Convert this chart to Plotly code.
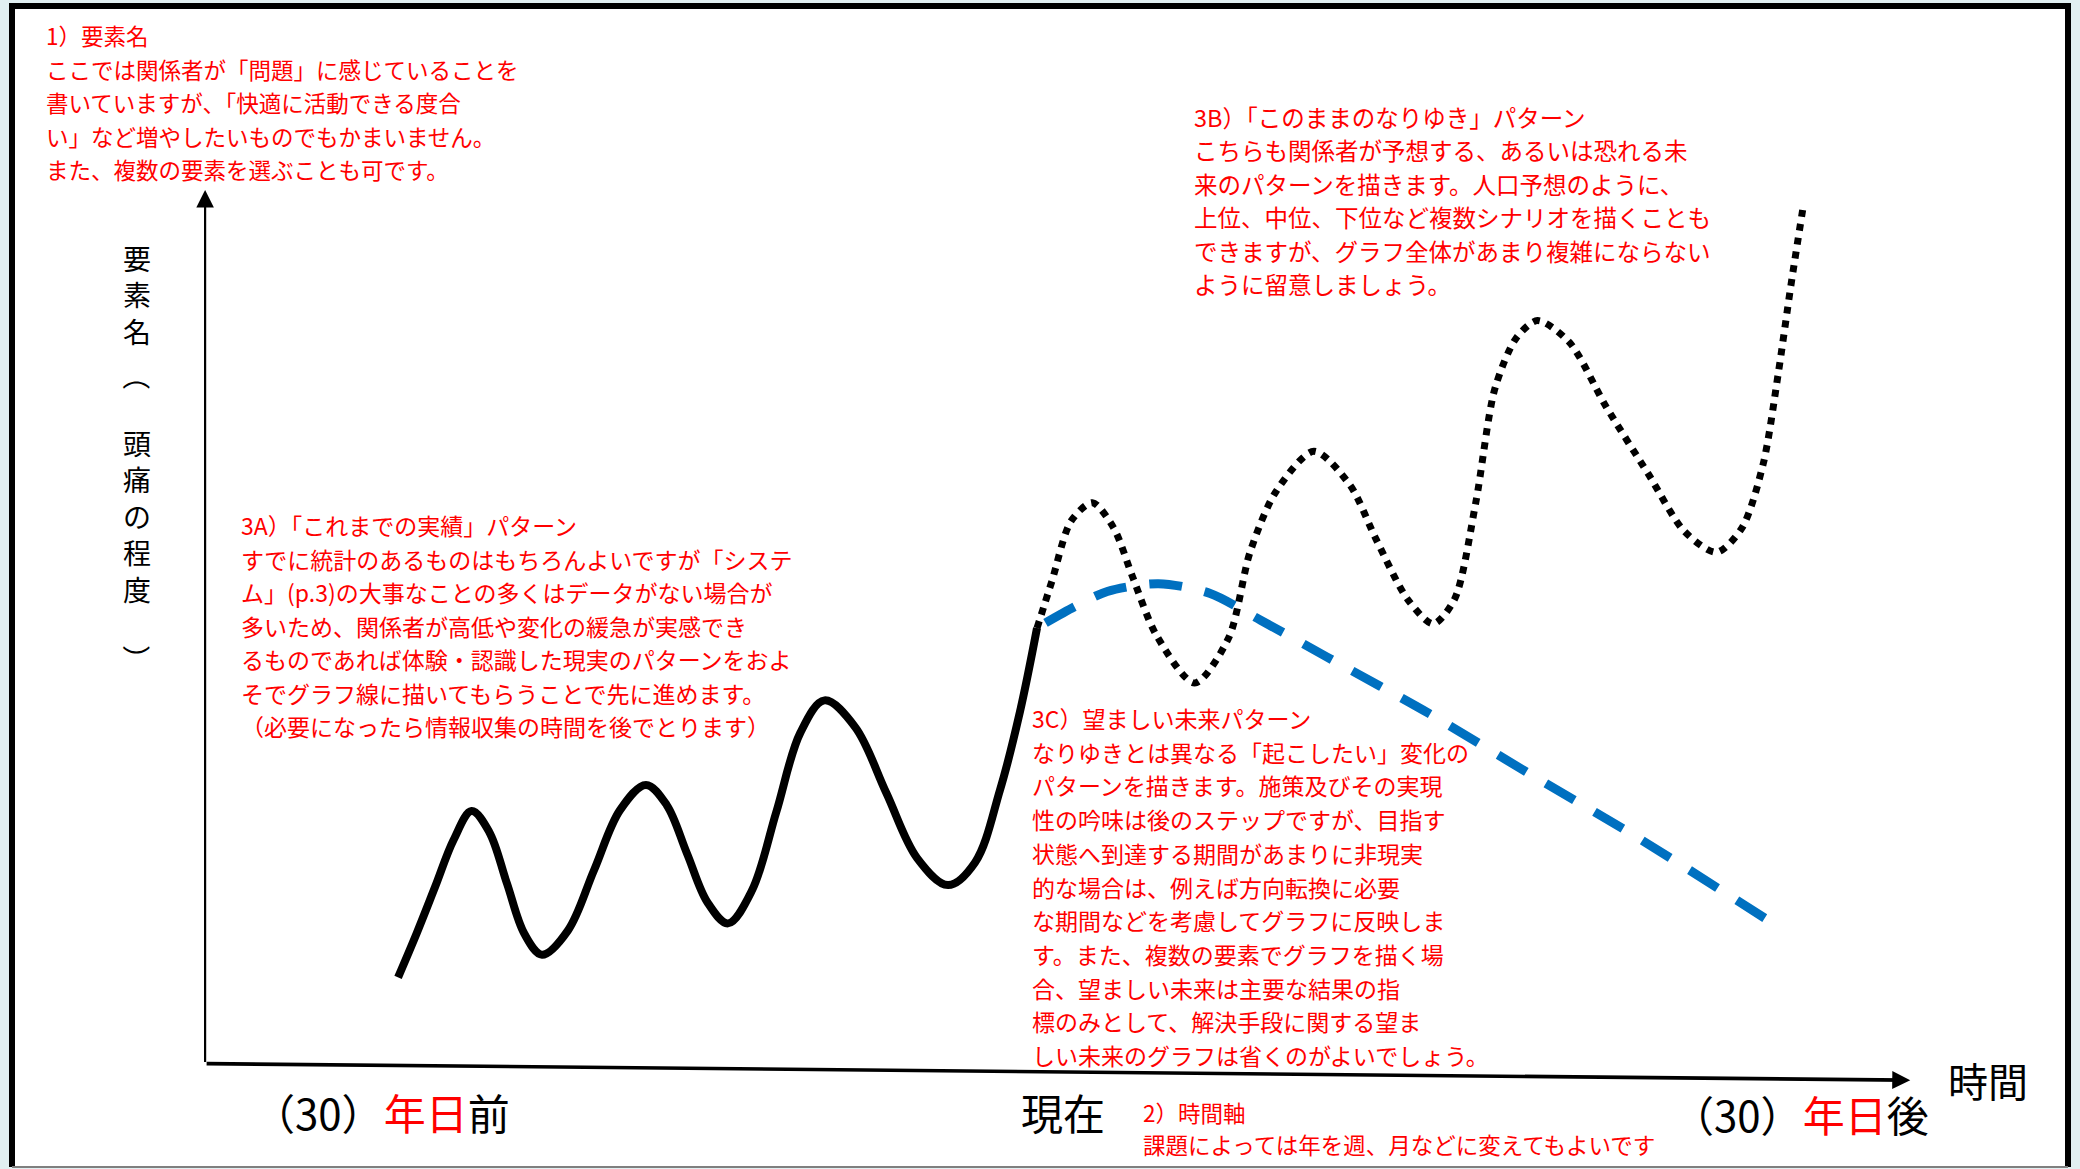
import plotly.graph_objects as go

# ---------------- data (time in years from "now", level of the element) ----------------
past_years = [-30.0, -29.12, -28.26, -27.39, -26.55, -25.72, -24.89, -24.07, -23.24, -22.02,
              -20.80, -19.58, -18.36, -17.39, -16.43, -15.47, -14.51, -13.38, -12.24, -11.11,
              -9.98, -8.53, -7.08, -5.63, -4.18, -2.91, -1.74, -0.80, 0.0]
past_level = [9.6, 14.7, 20.0, 25.4, 28.7, 26.3, 20.4, 14.6, 12.2, 15.0,
              21.9, 28.8, 31.7, 29.4, 23.8, 18.2, 15.8, 19.6, 28.6, 37.7,
              41.4, 38.3, 30.8, 23.3, 20.2, 22.8, 31.1, 40.1, 49.7]

trend_years = [0.0, 0.7, 1.6, 2.6, 3.6, 4.5, 5.6, 7.4, 9.0, 10.0, 11.2, 13.0, 14.7, 15.9,
               17.4, 18.6, 19.6, 20.6, 21.5, 22.5, 23.5, 25.0, 26.7, 28.7, 30.4, 31.9,
               33.1, 34.1, 34.8, 35.4, 36.0]
trend_level = [49.7, 55.1, 62.0, 64.1, 61.2, 55.5, 48.9, 43.4, 48.6, 58.4, 65.3, 70.0, 66.1,
               60.0, 53.0, 50.2, 53.0, 64.1, 77.2, 83.0, 85.0, 82.5, 75.2, 67.4, 60.8,
               58.4, 61.2, 68.6, 78.9, 89.1, 98.5]

goal_years = [0.4, 1.8, 3.3, 5.7, 8.1, 10.5, 13.6, 18.4, 23.1, 27.9, 34.3]
goal_level = [50.3, 52.2, 53.9, 54.8, 53.7, 50.6, 46.4, 39.9, 33.0, 26.1, 16.2]

# axis extents (years / level)
axis_origin = (-39.06, -0.3)
y_axis_top = 100.0
x_axis_end = (41.0, -2.2)

# ---------------- texts ----------------
y_title_upper = ["要", "素", "名"]
y_title_open = "（"
y_title_inner = ["頭", "痛", "の", "程", "度"]
y_title_close = "）"
x_title = "時間"
time_labels = ["（30）<span style='color:#ff0000'>年日</span>前",
               "現在",
               "（30）<span style='color:#ff0000'>年日</span>後"]

note_element = ["1）要素名",
                "ここでは関係者が「問題」に感じていることを",
                "書いていますが、「快適に活動できる度合",
                "い」など増やしたいものでもかまいません。",
                "また、複数の要素を選ぶことも可です。"]
note_trend = ["3B）「このままのなりゆき」パターン",
              "こちらも関係者が予想する、あるいは恐れる未",
              "来のパターンを描きます。人口予想のように、",
              "上位、中位、下位など複数シナリオを描くことも",
              "できますが、グラフ全体があまり複雑にならない",
              "ように留意しましょう。"]
note_past = ["3A）「これまでの実績」パターン",
             "すでに統計のあるものはもちろんよいですが「システ",
             "ム」(p.3)の大事なことの多くはデータがない場合が",
             "多いため、関係者が高低や変化の緩急が実感でき",
             "るものであれば体験・認識した現実のパターンをおよ",
             "そでグラフ線に描いてもらうことで先に進めます。",
             "（必要になったら情報収集の時間を後でとります）"]
note_goal = ["3C）望ましい未来パターン",
             "なりゆきとは異なる「起こしたい」変化の",
             "パターンを描きます。施策及びその実現",
             "性の吟味は後のステップですが、目指す",
             "状態へ到達する期間があまりに非現実",
             "的な場合は、例えば方向転換に必要",
             "な期間などを考慮してグラフに反映しま",
             "す。また、複数の要素でグラフを描く場",
             "合、望ましい未来は主要な結果の指",
             "標のみとして、解決手段に関する望ま",
             "しい未来のグラフは省くのがよいでしょう。"]
note_time = ["2）時間軸",
             "課題によっては年を週、月などに変えてもよいです"]

# ---------------- figure ----------------
W, H = 2080, 1169
FONT = "Noto Sans CJK JP"
RED = "#ff0000"


def fx(p):
    return p / W


def fy(p):
    return 1 - p / H


fig = go.Figure()

fig.add_trace(go.Scatter(x=past_years, y=past_level, mode="lines",
                         line=dict(color="#000000", width=8, shape="spline", smoothing=1.0),
                         hoverinfo="skip", showlegend=False))
fig.add_trace(go.Scatter(x=trend_years, y=trend_level, mode="lines",
                         line=dict(color="#000000", width=7, dash="dot", shape="spline",
                                   smoothing=0.8),
                         hoverinfo="skip", showlegend=False))
fig.add_trace(go.Scatter(x=goal_years, y=goal_level, mode="lines",
                         line=dict(color="#0070c0", width=9, dash="33px,23px", shape="spline",
                                   smoothing=0.8),
                         hoverinfo="skip", showlegend=False))

shapes = [
    dict(type="rect", xref="paper", yref="paper", x0=fx(12), x1=fx(2068), y0=fy(1167), y1=fy(6),
         fillcolor="#ffffff", line=dict(width=0), layer="below"),
    dict(type="line", xref="paper", yref="paper", x0=fx(9), x1=fx(2071), y0=fy(6), y1=fy(6),
         line=dict(color="#000000", width=6)),
    dict(type="line", xref="paper", yref="paper", x0=fx(12), x1=fx(12), y0=fy(4), y1=fy(1167),
         line=dict(color="#000000", width=6)),
    dict(type="line", xref="paper", yref="paper", x0=fx(2068), x1=fx(2068), y0=fy(4), y1=fy(1167),
         line=dict(color="#000000", width=6)),
    dict(type="line", xref="paper", yref="paper", x0=fx(12), x1=fx(2068), y0=fy(1167), y1=fy(1167),
         line=dict(color="#7f7f7f", width=2)),
]

annotations = []
# axes with arrows
annotations.append(dict(x=axis_origin[0], y=y_axis_top, ax=axis_origin[0], ay=axis_origin[1],
                        xref="x", yref="y", axref="x", ayref="y", text="", showarrow=True,
                        arrowhead=2, arrowsize=1.6, arrowwidth=2.2, arrowcolor="#000000"))
annotations.append(dict(x=x_axis_end[0], y=x_axis_end[1], ax=axis_origin[0], ay=axis_origin[1],
                        xref="x", yref="y", axref="x", ayref="y", text="", showarrow=True,
                        arrowhead=2, arrowsize=1.0, arrowwidth=3.6, arrowcolor="#000000"))

# vertical y title (stacked characters)
YT = dict(family=FONT, size=28, color="#000000")
annotations.append(dict(x=fx(137), y=fy(294), xref="paper", yref="paper",
                        text="<br>".join(y_title_upper), showarrow=False,
                        xanchor="center", yanchor="middle", font=YT))
annotations.append(dict(x=fx(137), y=fy(376), xref="paper", yref="paper",
                        text=y_title_open, textangle=90, showarrow=False,
                        xanchor="center", yanchor="middle", font=YT))
annotations.append(dict(x=fx(137), y=fy(516), xref="paper", yref="paper",
                        text="<br>".join(y_title_inner), showarrow=False,
                        xanchor="center", yanchor="middle", font=YT))
annotations.append(dict(x=fx(137), y=fy(659), xref="paper", yref="paper",
                        text=y_title_close, textangle=90, showarrow=False,
                        xanchor="center", yanchor="middle", font=YT))

# x title
annotations.append(dict(x=fx(1988), y=fy(1080), xref="paper", yref="paper", text=x_title,
                        showarrow=False, xanchor="center", yanchor="middle",
                        font=dict(family=FONT, size=40, color="#000000")))

# time labels under the axis
for lab, cx, cy in zip(time_labels, [381, 1063, 1800], [1111, 1111, 1113]):
    annotations.append(dict(x=fx(cx), y=fy(cy), xref="paper", yref="paper", text=lab,
                            showarrow=False, xanchor="center", yanchor="middle",
                            font=dict(family=FONT, size=42, color="#000000")))


def add_block(lines, left, top, pitch, size):
    for i, t in enumerate(lines):
        annotations.append(dict(x=fx(left), y=fy(top + i * pitch), xref="paper", yref="paper",
                                text=t, showarrow=False, xanchor="left", yanchor="middle",
                                font=dict(family=FONT, size=size, color=RED)))


add_block(note_element, 44, 35, 33.5, 22.5)
add_block(note_trend, 1192, 117, 33.5, 23.5)
add_block(note_past, 239, 525, 33.5, 23)
add_block(note_goal, 1030, 718, 33.7, 23)
add_block(note_time, 1141, 1112, 32, 22.5)

fig.update_layout(
    width=W, height=H,
    margin=dict(l=0, r=0, t=0, b=0),
    paper_bgcolor="#e1eff1",
    plot_bgcolor="rgba(0,0,0,0)",
    font=dict(family=FONT),
    showlegend=False,
    xaxis=dict(range=[-48.69, 48.97], visible=False, fixedrange=True),
    yaxis=dict(range=[-12.40, 121.81], visible=False, fixedrange=True),
    shapes=shapes,
    annotations=annotations,
)

fig.write_html("out.html",
               config={"displayModeBar": False},
               post_script="document.body.style.margin='0px';"
                           "document.body.style.overflow='hidden';")
